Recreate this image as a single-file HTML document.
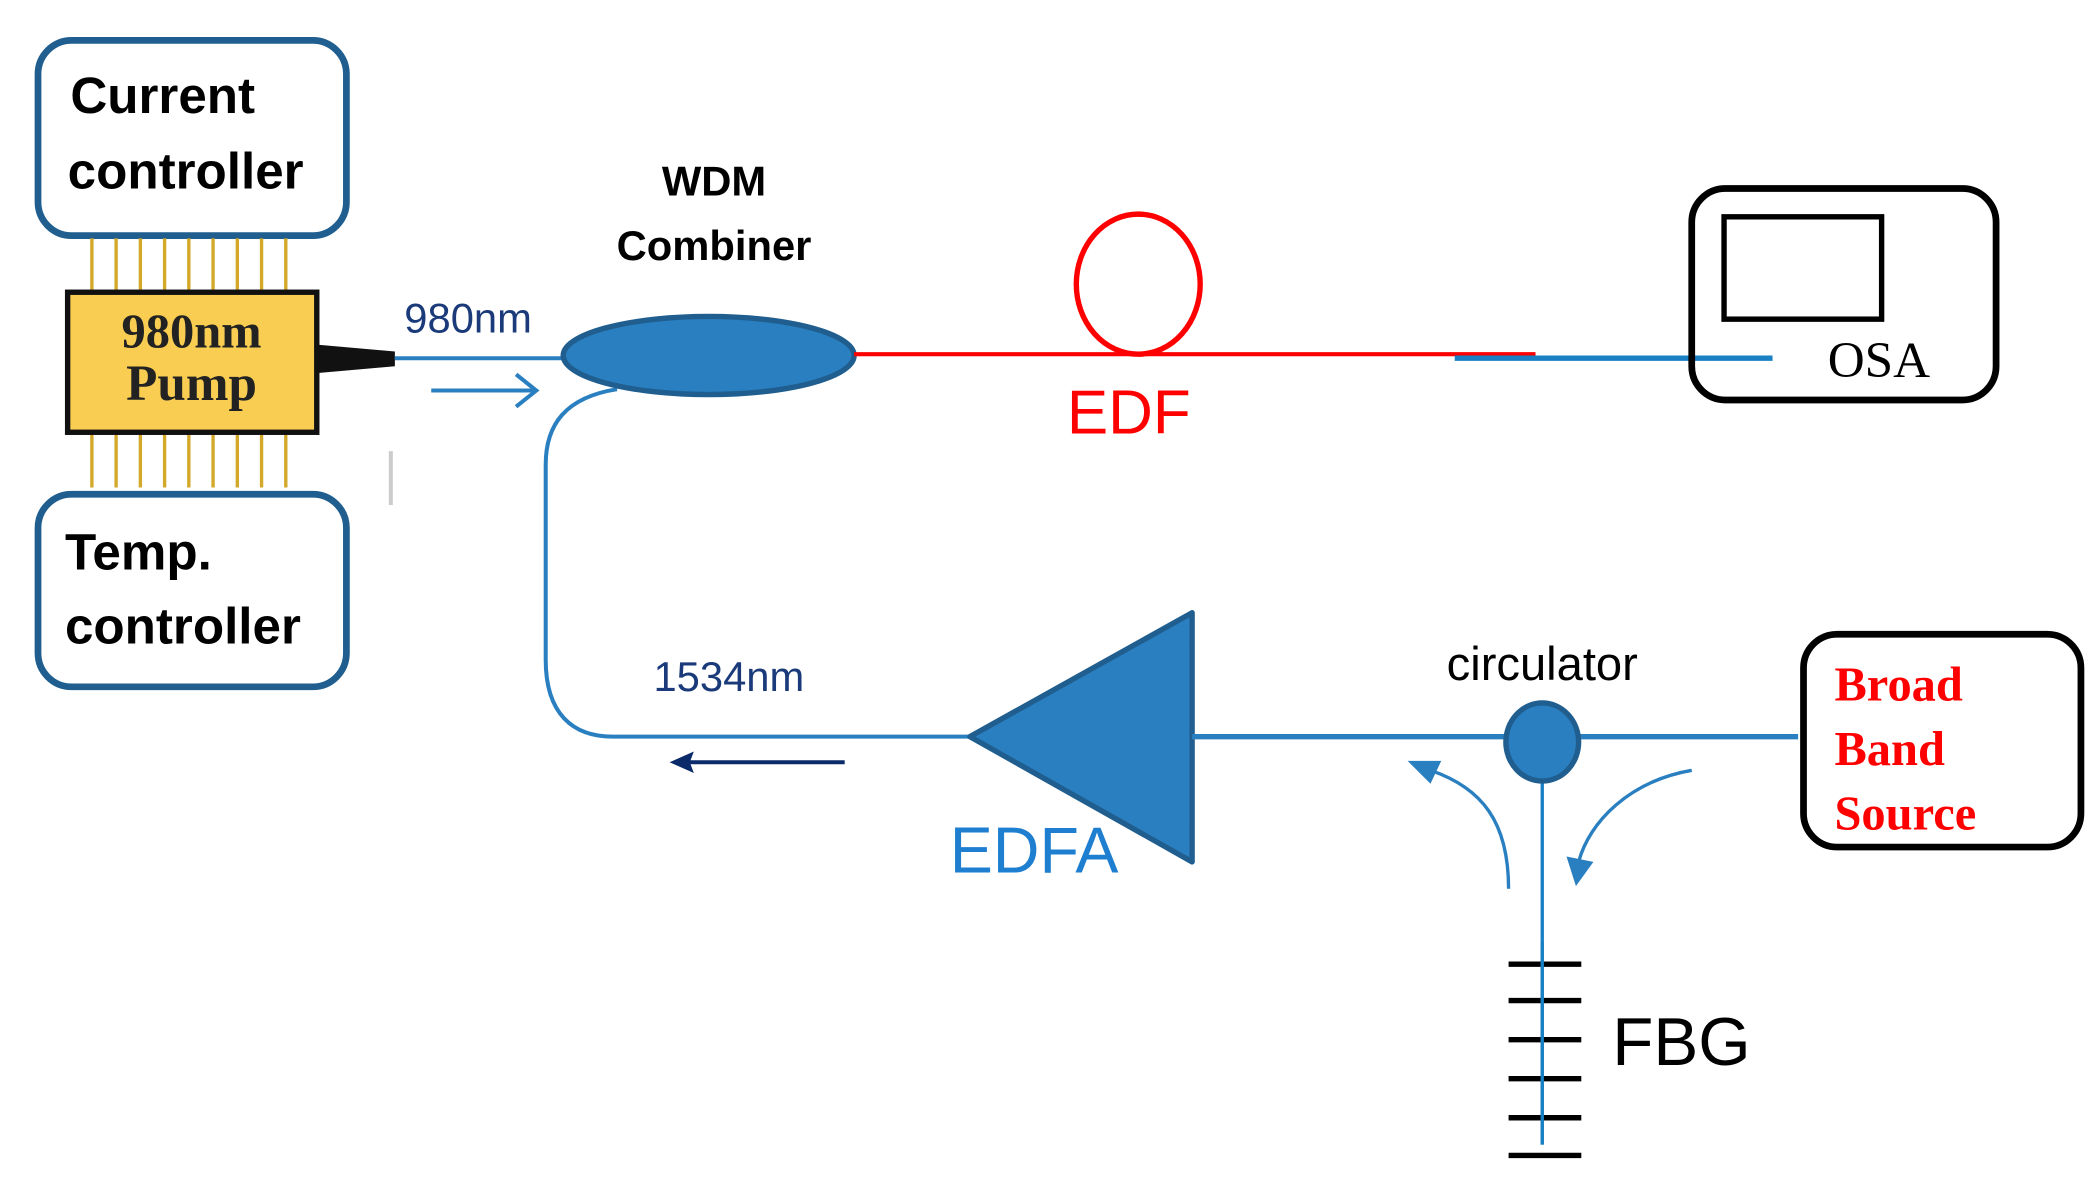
<!DOCTYPE html>
<html><head><meta charset="utf-8"><style>
html,body{margin:0;padding:0;background:#fff;}
svg{display:block;}
.s{font-family:"Liberation Sans",sans-serif;}
.r{font-family:"Liberation Serif",serif;}
</style></head><body>
<svg width="2092" height="1177" viewBox="0 0 1553 874" xmlns="http://www.w3.org/2000/svg">
<rect width="1553" height="874" fill="#fff"/>
<rect x="28" y="30" width="229" height="145" rx="25" fill="#fff" stroke="#1f5e8e" stroke-width="5"/>
<text x="52" y="84" class="s" font-size="38" font-weight="bold" fill="#000">Current</text>
<text x="50" y="140" class="s" font-size="38" font-weight="bold" fill="#000">controller</text>
<rect x="28" y="367" width="229" height="143" rx="25" fill="#fff" stroke="#1f5e8e" stroke-width="5"/>
<text x="48" y="423" class="s" font-size="38" font-weight="bold" fill="#000">Temp.</text>
<text x="48" y="478" class="s" font-size="38" font-weight="bold" fill="#000">controller</text>
<g stroke="#d4a92a" stroke-width="2.5">
<line x1="68" y1="177" x2="68" y2="215"/><line x1="86" y1="177" x2="86" y2="215"/><line x1="104" y1="177" x2="104" y2="215"/><line x1="122" y1="177" x2="122" y2="215"/><line x1="140" y1="177" x2="140" y2="215"/><line x1="158" y1="177" x2="158" y2="215"/><line x1="176" y1="177" x2="176" y2="215"/><line x1="194" y1="177" x2="194" y2="215"/><line x1="212" y1="177" x2="212" y2="215"/>
<line x1="68" y1="322" x2="68" y2="362"/><line x1="86" y1="322" x2="86" y2="362"/><line x1="104" y1="322" x2="104" y2="362"/><line x1="122" y1="322" x2="122" y2="362"/><line x1="140" y1="322" x2="140" y2="362"/><line x1="158" y1="322" x2="158" y2="362"/><line x1="176" y1="322" x2="176" y2="362"/><line x1="194" y1="322" x2="194" y2="362"/><line x1="212" y1="322" x2="212" y2="362"/>
</g>
<line x1="290" y1="335" x2="290" y2="375" stroke="#ccc" stroke-width="3"/>
<rect x="50" y="217" width="185" height="104" fill="#f9cd52" stroke="#111" stroke-width="4"/>
<text x="142" y="258" class="r" font-size="36" font-weight="bold" text-anchor="middle" fill="#222">980nm</text>
<text x="142" y="297" class="r" font-size="38" font-weight="bold" text-anchor="middle" fill="#222">Pump</text>
<polygon points="236,256 293,261 293,272 236,277" fill="#111"/>
<line x1="293" y1="266" x2="420" y2="266" stroke="#2a7fc0" stroke-width="3"/>
<text x="300" y="247" class="s" font-size="31" fill="#1a3a7a">980nm</text>
<line x1="320" y1="290" x2="398" y2="290" stroke="#2a7fc0" stroke-width="3"/>
<polyline points="383,278 398,290 383,302" fill="none" stroke="#2a7fc0" stroke-width="3"/>
<text x="530" y="145" class="s" font-size="31" font-weight="bold" text-anchor="middle" fill="#000">WDM</text>
<text x="530" y="193" class="s" font-size="31" font-weight="bold" text-anchor="middle" fill="#000">Combiner</text>
<path d="M458,289 C420,295 405,315 405,345 L405,490 C405,530 425,547 455,547 L722,547" fill="none" stroke="#2a7fc0" stroke-width="3"/>
<ellipse cx="526" cy="264" rx="108" ry="29" fill="#2a7fc0" stroke="#1f5e8e" stroke-width="4"/>
<line x1="634" y1="263" x2="1140" y2="263" stroke="#ff0000" stroke-width="3"/>
<ellipse cx="845" cy="211" rx="46" ry="52" fill="none" stroke="#ff0000" stroke-width="4"/>
<text x="792" y="322" class="s" font-size="46" fill="#ff0000">EDF</text>
<line x1="1080" y1="266" x2="1316" y2="266" stroke="#1a80c4" stroke-width="4"/>
<rect x="1256" y="140" width="226" height="157" rx="25" fill="none" stroke="#000" stroke-width="5"/>
<rect x="1280" y="161" width="117" height="76" fill="none" stroke="#000" stroke-width="4"/>
<text x="1357" y="280" class="r" font-size="38" fill="#000">OSA</text>
<text x="485" y="513" class="s" font-size="31" fill="#1a3a7a">1534nm</text>
<line x1="510" y1="566" x2="627" y2="566" stroke="#0a2a6a" stroke-width="3"/>
<polygon points="497,566 515,558 512,566 515,574" fill="#0a2a6a"/>
<polygon points="720,547 885,455 885,640" fill="#2a7fc0" stroke="#1f5e8e" stroke-width="4" stroke-linejoin="round"/>
<text x="705" y="648" class="s" font-size="48" fill="#1e7fd0">EDFA</text>
<line x1="885" y1="547" x2="1335" y2="547" stroke="#2a7fc0" stroke-width="4"/>
<text x="1145" y="505" class="s" font-size="35" text-anchor="middle" fill="#000">circulator</text>
<line x1="1145" y1="580" x2="1145" y2="850" stroke="#1a80c4" stroke-width="2.5"/>
<ellipse cx="1145" cy="551" rx="27" ry="29" fill="#2a7fc0" stroke="#1f5e8e" stroke-width="4"/>
<path d="M1120,660 C1120,610 1100,585 1062,572" fill="none" stroke="#2a7fc0" stroke-width="2.5"/>
<polygon points="1045,565 1070,565 1062,582" fill="#2a7fc0"/>
<path d="M1256,572 C1210,580 1180,610 1172,640" fill="none" stroke="#2a7fc0" stroke-width="2.5"/>
<polygon points="1163,636 1183,640 1170,658" fill="#2a7fc0"/>
<g stroke="#000" stroke-width="4">
<line x1="1120" y1="716" x2="1174" y2="716"/><line x1="1120" y1="743" x2="1174" y2="743"/><line x1="1120" y1="772" x2="1174" y2="772"/><line x1="1120" y1="801" x2="1174" y2="801"/><line x1="1120" y1="830" x2="1174" y2="830"/><line x1="1120" y1="858" x2="1174" y2="858"/>
</g>
<line x1="1145" y1="700" x2="1145" y2="850" stroke="#1a80c4" stroke-width="2.5"/>
<text x="1197" y="791" class="s" font-size="50" fill="#000">FBG</text>
<rect x="1339" y="471" width="206" height="158" rx="25" fill="#fff" stroke="#000" stroke-width="5"/>
<text x="1362" y="520" class="r" font-size="36" font-weight="bold" fill="#ff0000">Broad</text>
<text x="1362" y="568" class="r" font-size="36" font-weight="bold" fill="#ff0000">Band</text>
<text x="1362" y="616" class="r" font-size="36" font-weight="bold" fill="#ff0000">Source</text>
</svg>
</body></html>
